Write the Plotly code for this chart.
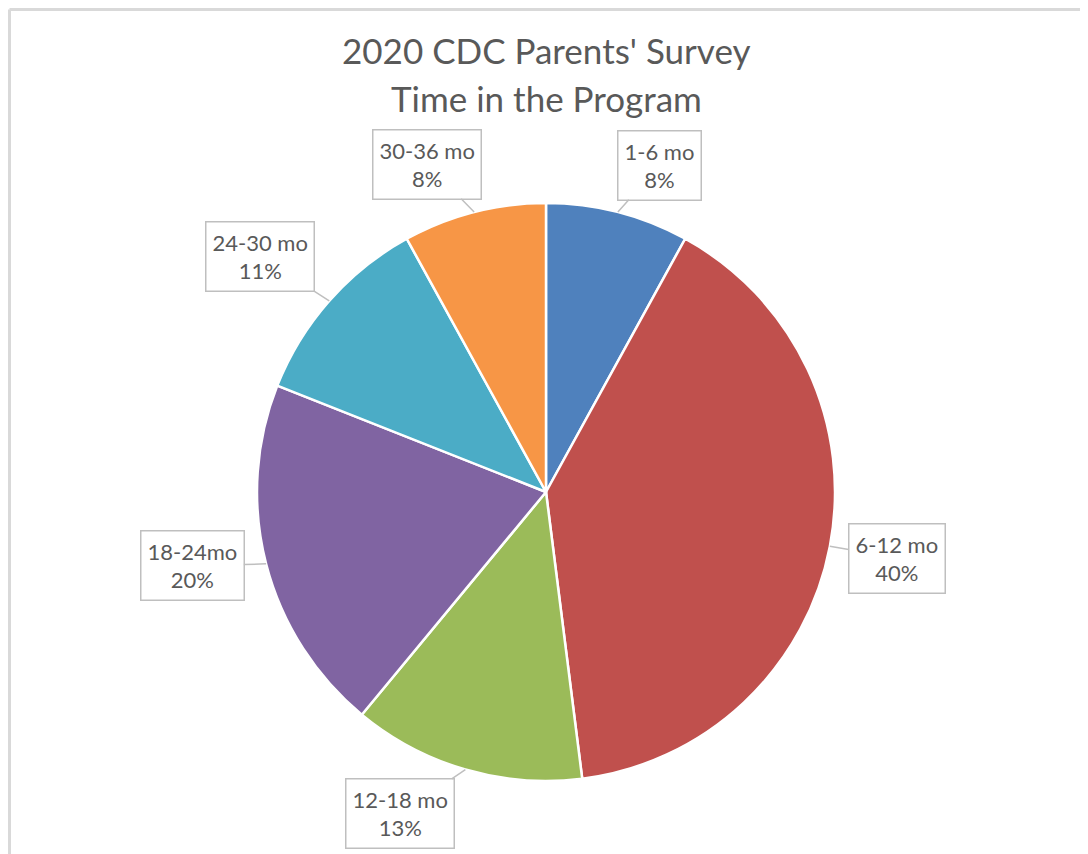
import math
import plotly.graph_objects as go

labels = ["1-6 mo", "6-12 mo", "12-18 mo", "18-24mo", "24-30 mo", "30-36 mo"]
values = [8, 40, 13, 20, 11, 8]
colors = ["#4F81BD", "#C0504D", "#9BBB59", "#8064A2", "#4BACC6", "#F79646"]
title_lines = ["2020 CDC Parents' Survey", "Time in the Program"]

P = 8  # browser body margin
W, H = 1088 - P, 854 - P
CX, CY, R = 546 - P, 492 - P, 289  # pie centre / radius in pixels (figure coords)

# label offsets (pixels) of the callout boxes from the slice edge
offsets = [(42, -47), (67, 12), (-65, 44), (-74, 2), (-69, -44), (-47, -48)]

fig = go.Figure(go.Pie(
    labels=labels, values=values, sort=False, direction="clockwise", rotation=0,
    marker=dict(colors=colors, line=dict(color="white", width=2.5)),
    textinfo="none", hoverinfo="label+percent", showlegend=False,
    domain=dict(x=[(CX - R) / W, (CX + R) / W], y=[1 - (CY + R) / H, 1 - (CY - R) / H]),
))

total = sum(values)
cum = 0
annotations = []
for lab, v, (ox, oy) in zip(labels, values, offsets):
    mid = (cum + v / 2) / total
    cum += v
    ang = 2 * math.pi * mid
    px = CX + R * math.sin(ang)
    py = CY - R * math.cos(ang)
    annotations.append(dict(
        x=px / W, y=1 - py / H, xref="paper", yref="paper",
        text=f"{lab}<br>{round(v / total * 100)}%",
        showarrow=True, arrowhead=0, arrowwidth=1.5, arrowcolor="#BFBFBF",
        ax=ox, ay=oy, standoff=0,
        bordercolor="#BFBFBF", borderwidth=1.5, borderpad=6, bgcolor="white",
        font=dict(family="Lato, Open Sans, sans-serif", size=22, color="#595959"),
    ))

for i, t in enumerate(title_lines):
    annotations.append(dict(
        x=(546 - P) / W, y=1 - (50 - P + 48 * i) / H, xref="paper", yref="paper",
        text=t, showarrow=False, xanchor="center", yanchor="middle",
        font=dict(family="Lato, Open Sans, sans-serif", size=35, color="#595959"),
    ))

bx0, bx1, by_top = 1.5, 1075, 1.5
border = dict(color="#D9D9D9", width=3)
shapes = [
    dict(type="line", xref="paper", yref="paper", x0=bx0 / W, x1=bx0 / W,
         y0=0, y1=1 - by_top / H, line=border),
    dict(type="line", xref="paper", yref="paper", x0=bx1 / W, x1=bx1 / W,
         y0=0, y1=1 - by_top / H, line=border),
    dict(type="line", xref="paper", yref="paper", x0=bx0 / W, x1=bx1 / W,
         y0=1 - by_top / H, y1=1 - by_top / H, line=border),
]

fig.update_layout(
    width=W, height=H, margin=dict(l=0, r=0, t=0, b=0),
    paper_bgcolor="white", plot_bgcolor="white",
    annotations=annotations,
    shapes=shapes,
)

fig.write_html("out.html")
